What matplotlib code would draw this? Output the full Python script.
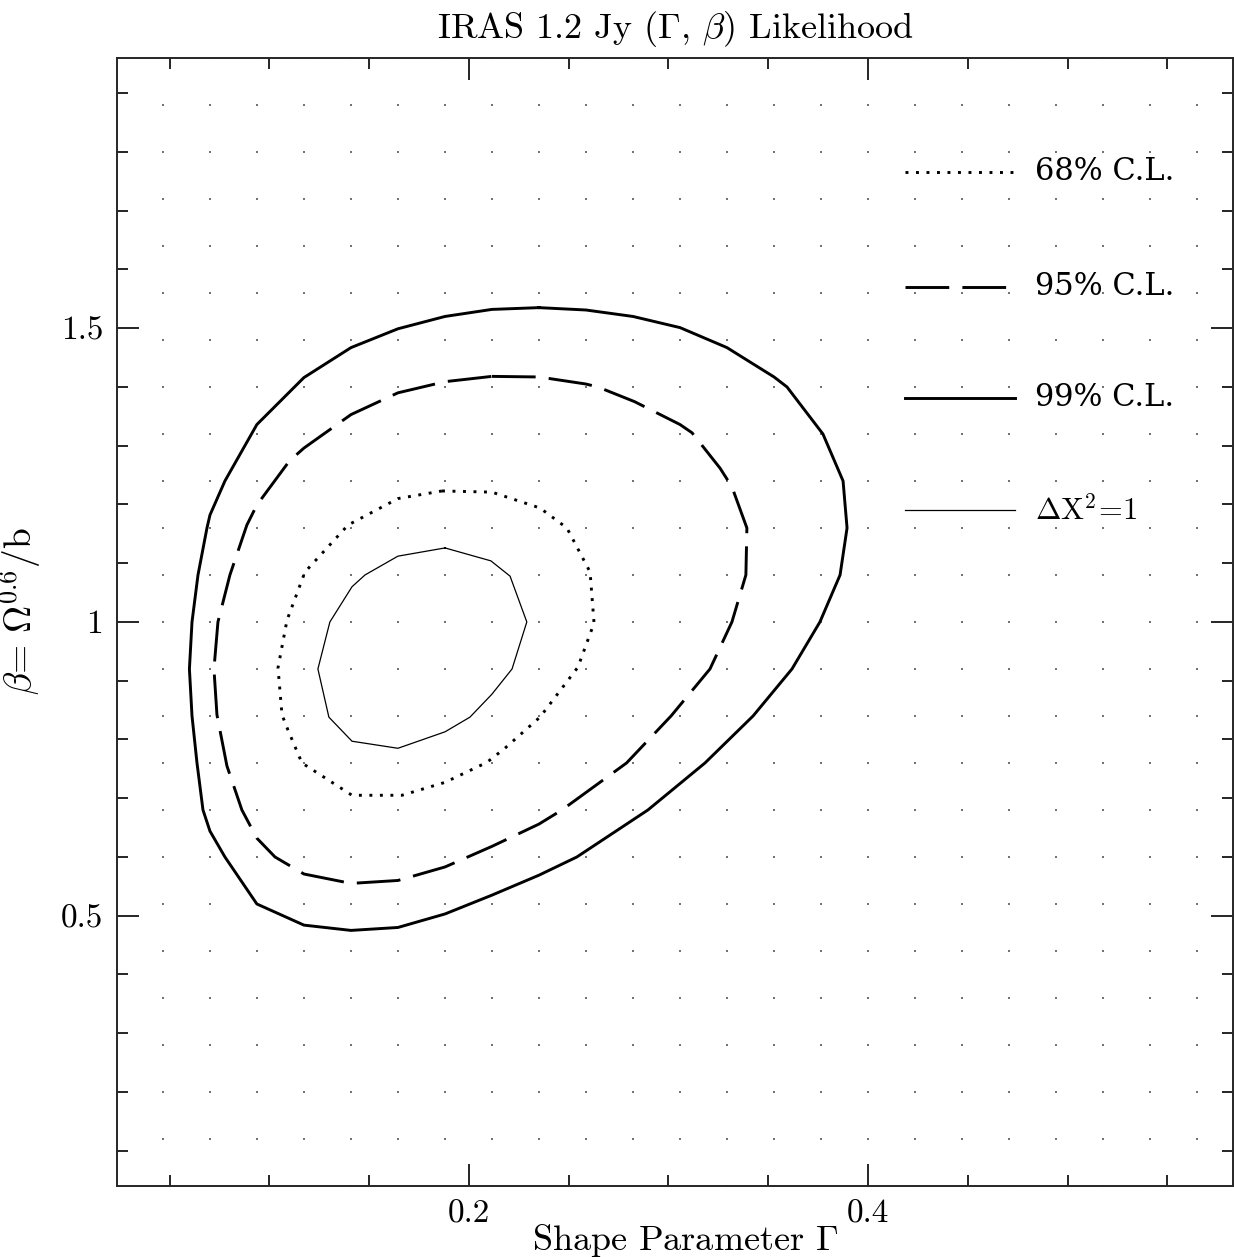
import numpy as np
import matplotlib
matplotlib.use("Agg")
import matplotlib.pyplot as plt

plt.rcParams['font.family'] = 'cmr10'
plt.rcParams['mathtext.fontset'] = 'cm'
plt.rcParams['axes.formatter.use_mathtext'] = True

# contour vertices: (Gamma, beta)
c99_gam = [0.2351, 0.2586, 0.2822, 0.3058, 0.3293, 0.3529, 0.3594, 0.3774, 0.3875, 0.3895,
           0.3860, 0.3759, 0.3619, 0.3424, 0.3183, 0.2897, 0.2541, 0.2351, 0.2115, 0.1880,
           0.1644, 0.1409, 0.1173, 0.0937, 0.0777, 0.0702, 0.0667, 0.0637, 0.0612, 0.0599,
           0.0612, 0.0642, 0.0687, 0.0702, 0.0777, 0.0937, 0.1173, 0.1409, 0.1644, 0.1880,
           0.2115, 0.2351]
c99_beta = [1.535, 1.531, 1.520, 1.501, 1.467, 1.417, 1.400, 1.320, 1.240, 1.160,
            1.080, 1.000, 0.920, 0.840, 0.760, 0.680, 0.600, 0.569, 0.535, 0.503,
            0.480, 0.475, 0.484, 0.520, 0.600, 0.644, 0.680, 0.760, 0.840, 0.920,
            1.000, 1.080, 1.160, 1.182, 1.240, 1.336, 1.416, 1.467, 1.499, 1.520,
            1.532, 1.535]

c95_gam = [0.2115, 0.2351, 0.2586, 0.2646, 0.2830, 0.3058, 0.3118, 0.3258, 0.3318, 0.3393,
           0.3388, 0.3318, 0.3208, 0.3013, 0.2790, 0.2466, 0.2351, 0.2115, 0.1880, 0.1644,
           0.1409, 0.1173, 0.1028, 0.0937, 0.0862, 0.0787, 0.0737, 0.0722, 0.0742, 0.0802,
           0.0887, 0.0937, 0.1100, 0.1173, 0.1409, 0.1644, 0.1880, 0.2115]
c95_beta = [1.418, 1.417, 1.405, 1.400, 1.375, 1.336, 1.322, 1.262, 1.230, 1.160,
            1.080, 1.000, 0.920, 0.840, 0.760, 0.680, 0.656, 0.618, 0.583, 0.560,
            0.555, 0.571, 0.600, 0.632, 0.680, 0.755, 0.842, 0.920, 1.000, 1.080,
            1.165, 1.199, 1.274, 1.296, 1.353, 1.390, 1.409, 1.418]

c68_gam = [0.1865, 0.2115, 0.2356, 0.2491, 0.2607, 0.2627, 0.2546, 0.2356, 0.2180, 0.2090,
           0.1880, 0.1664, 0.1414, 0.1163, 0.1093, 0.1063, 0.1043, 0.1088, 0.1178, 0.1394,
           0.1644, 0.1865]
c68_beta = [1.223, 1.221, 1.194, 1.160, 1.085, 0.998, 0.923, 0.838, 0.785, 0.761,
            0.727, 0.705, 0.705, 0.760, 0.816, 0.842, 0.922, 1.003, 1.085, 1.165,
            1.210, 1.223]

c1_gam = [0.1880, 0.2110, 0.2206, 0.2290, 0.2216, 0.2115, 0.2005, 0.1880, 0.1644, 0.1414,
          0.1298, 0.1243, 0.1303, 0.1414, 0.1479, 0.1644, 0.1880]
c1_beta = [1.126, 1.104, 1.078, 1.000, 0.920, 0.877, 0.838, 0.813, 0.785, 0.797,
           0.838, 0.920, 1.000, 1.060, 1.080, 1.112, 1.126]

legend_labels = ['68% C.L.', '95% C.L.', '99% C.L.']

fig = plt.figure(figsize=(12.34, 12.57), dpi=100)
ax = fig.add_axes([0.0948, 0.0565, 0.9045, 0.8974])

# dotted background grid
gx, gy = np.meshgrid((46 + 47 * np.arange(23)) / 1116, np.arange(25) / 24)
ax.scatter(gx.ravel(), gy.ravel(), s=0.9, marker='s', color='0.45', lw=0,
           transform=ax.transAxes, zorder=0, clip_on=False)

lw = 2.1
dotted = (0, (1.0, 2.6))
dashed = (0, (15, 4.5))
ax.plot(c99_gam, c99_beta, color='k', lw=lw, ls='-')
ax.plot(c95_gam, c95_beta, color='k', lw=lw, ls=dashed, dash_capstyle='butt')
ax.plot(c68_gam, c68_beta, color='k', lw=lw, ls=dotted, dash_capstyle='butt')
ax.plot(c1_gam, c1_beta, color='k', lw=0.9, ls='-')

ax.set_xlim(0.0236, 0.583)
ax.set_ylim(0.04, 1.96)

ax.set_xticks([0.2, 0.4])
ax.set_xticklabels(['0.2', '0.4'])
ax.set_xticks(np.arange(0.05, 0.6, 0.05), minor=True)
ax.set_yticks([0.5, 1.0, 1.5])
ax.set_yticklabels(['0.5', '1', '1.5'])
ax.set_yticks(np.arange(0.1, 1.95, 0.1), minor=True)
ax.tick_params(which='both', direction='in', top=True, right=True, labelsize=24, pad=10)
ax.tick_params(which='major', length=16, width=1.2)
ax.tick_params(which='minor', length=8, width=1.2)
for s in ax.spines.values():
    s.set_linewidth(1.4)
    s.set_color('0.15')

# legend drawn by hand
ly = [0.899, 0.797, 0.6986]
styles = [dotted, dashed, '-']
for y, st, lab in zip(ly, styles, legend_labels):
    ax.plot([0.706, 0.805], [y, y], color='k', lw=lw, ls=st, dash_capstyle='butt',
            transform=ax.transAxes)
    ax.text(0.8226, y, lab, transform=ax.transAxes, va='center', ha='left',
            family='DejaVu Serif', fontsize=22)
ax.plot([0.706, 0.805], [0.5993, 0.5993], color='k', lw=0.9, transform=ax.transAxes)
ax.text(0.8226, 0.5993, r'$\Delta\mathrm{X}^2\!=\!1$', transform=ax.transAxes,
        va='center', ha='left', fontsize=22)

ax.text(0.5, 1.026, r'IRAS 1.2 Jy ($\Gamma$, $\beta$) Likelihood', transform=ax.transAxes,
        ha='center', va='center', fontsize=26)
ax.set_xlabel(r'Shape Parameter $\Gamma$', fontsize=26)
ax.xaxis.set_label_coords(0.509, -0.032)
ax.set_ylabel(r'$\beta$= $\Omega^{0.6}$/b', fontsize=27)
ax.yaxis.set_label_coords(-0.066, 0.51)

fig.savefig('out.png', dpi=100)
